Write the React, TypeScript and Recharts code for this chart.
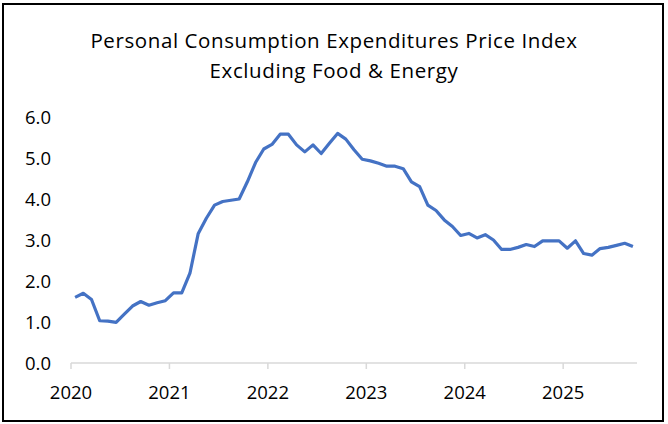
import { LineChart, Line, XAxis, YAxis } from "recharts";

// core PCE, y/y %, monthly from Jan 2020
const years = [2020, 2021, 2022, 2023, 2024, 2025];
const pce2020 = [1.6, 1.7, 1.55, 1.03, 1.02, 0.99, 1.19, 1.39, 1.5, 1.41, 1.47, 1.52];
const pce2021 = [1.71, 1.71, 2.19, 3.15, 3.53, 3.85, 3.94, 3.97, 4.0, 4.42, 4.89, 5.22];
const pce2022 = [5.33, 5.58, 5.58, 5.32, 5.15, 5.32, 5.11, 5.36, 5.6, 5.46, 5.2, 4.97];
const pce2023 = [4.93, 4.87, 4.8, 4.8, 4.74, 4.42, 4.3, 3.85, 3.72, 3.49, 3.33, 3.11];
const pce2024 = [3.16, 3.05, 3.13, 3.0, 2.77, 2.77, 2.82, 2.89, 2.84, 2.98, 2.98, 2.98];
const pce2025 = [2.8, 2.98, 2.67, 2.63, 2.79, 2.82, 2.87, 2.92, 2.84];
const yTicks = [0, 1, 2, 3, 4, 5, 6];

const allValues = [...pce2020, ...pce2021, ...pce2022, ...pce2023, ...pce2024, ...pce2025];

// each month sits in the middle of its slot, ticks on year boundaries
const data = allValues.map((v, i) => ({ m: i + 0.5, value: v }));
const xTicks = years.map((_, i) => i * 12);

const font = "'Open Sans', sans-serif";

export default function App() {
  return (
    <div
      style={{
        position: "absolute",
        left: 0,
        top: 0,
        width: 668,
        height: 424,
        background: "#fff",
        fontFamily: font,
      }}
    >
      <div
        style={{
          position: "absolute",
          left: 2,
          top: 3,
          width: 662,
          height: 419,
          border: "2px solid #000",
          boxSizing: "border-box",
        }}
      />
      <div
        style={{
          position: "absolute",
          left: 0,
          top: 25,
          width: 668,
          textAlign: "center",
          fontSize: 20.5,
          letterSpacing: 0.6,
          lineHeight: "30px",
          color: "#000",
        }}
      >
        Personal Consumption Expenditures Price Index
        <br />
        Excluding Food &amp; Energy
      </div>
      <div style={{ position: "absolute", left: 0, top: 0 }}>
        <LineChart
          width={668}
          height={424}
          data={data}
          margin={{ top: 117, right: 31, bottom: 0, left: 0 }}
        >
          <XAxis
            dataKey="m"
            type="number"
            domain={[0, allValues.length]}
            ticks={xTicks}
            tickFormatter={(v: number) => String(years[v / 12])}
            axisLine={{ stroke: "#d9d9d9", strokeWidth: 1.5 }}
            tickLine={{ stroke: "#d9d9d9", strokeWidth: 1.5 }}
            tickSize={6}
            tickMargin={17}
            height={61}
            tick={{ fill: "#000", fontSize: 18.5, fontFamily: font }}
            interval={0}
          />
          <YAxis
            domain={[0, 6]}
            ticks={yTicks}
            tickFormatter={(v: number) => v.toFixed(1)}
            axisLine={false}
            tickLine={false}
            tickSize={6}
            tickMargin={14}
            width={71}
            tick={{ fill: "#000", fontSize: 18.5, fontFamily: font }}
            interval={0}
          />
          <Line
            type="linear"
            dataKey="value"
            stroke="#4472C4"
            strokeWidth={3.2}
            strokeLinejoin="round"
            dot={false}
            isAnimationActive={false}
          />
        </LineChart>
      </div>
    </div>
  );
}
